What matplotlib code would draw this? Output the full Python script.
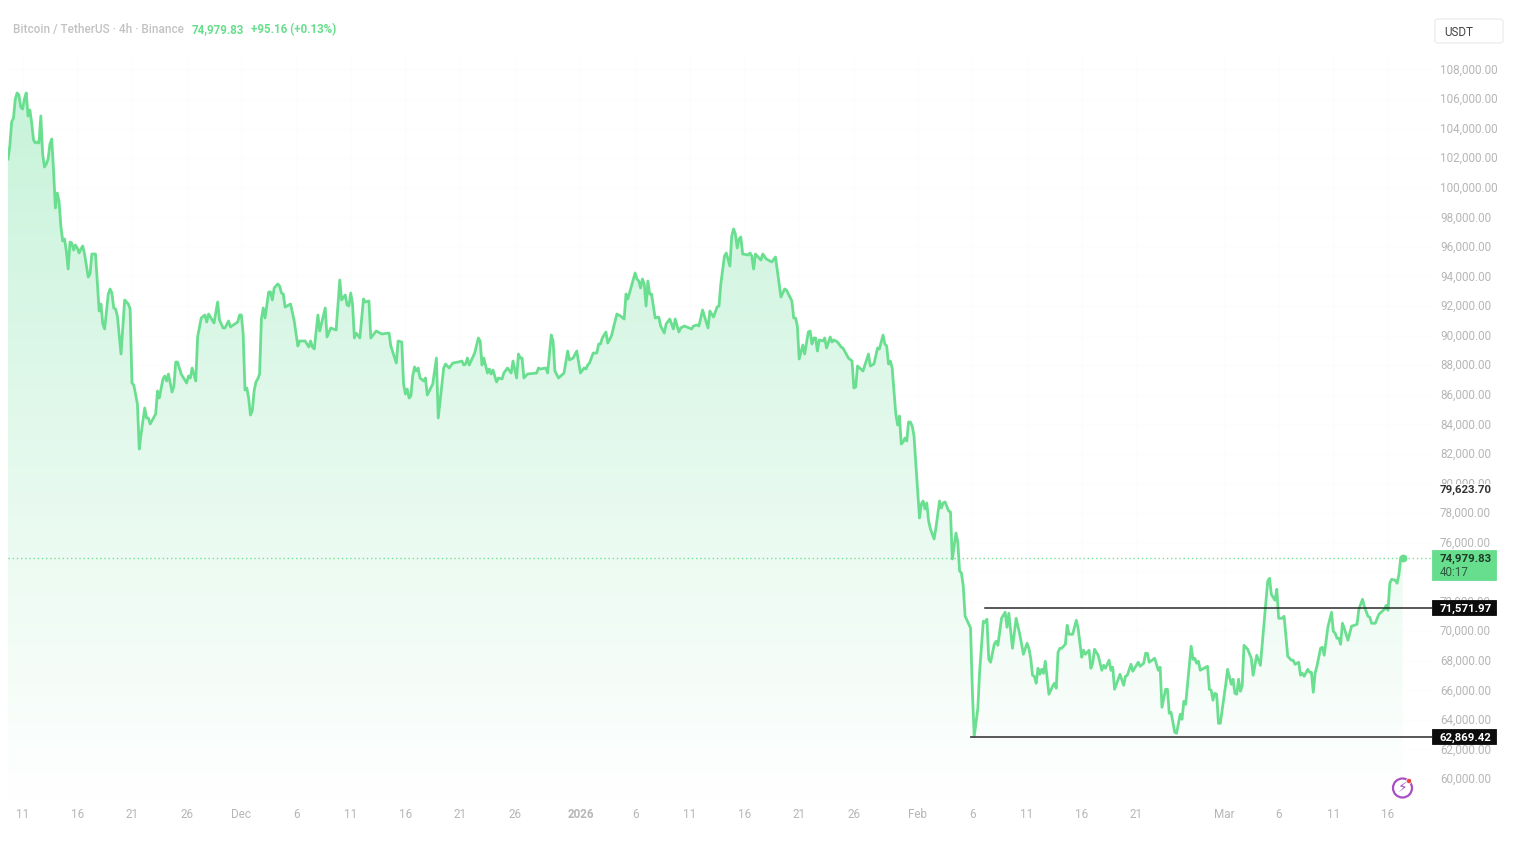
import matplotlib
matplotlib.use("Agg")
import matplotlib.pyplot as plt
import numpy as np
from matplotlib.colors import LinearSegmentedColormap
from matplotlib.patches import PathPatch, Circle, FancyBboxPatch
from matplotlib.transforms import blended_transform_factory, ScaledTranslation

plt.rcParams['font.family'] = ['Roboto', 'DejaVu Sans']

# 4h bar index since the first bar shown
bars = [0,1,2,3,4,5,6,7,8,9,10,11,12,13,14,15,16,17,18,19,20,21,22,23,24,25,26,27,28,29,30,31,32,33,34,35,36,37,38,39,40,41,42,
44,45,46,48,50,51,52,53,55,56,57,58,59,60,62,64,66,67,68,69,71,72,73,75,76,77,78,81,82,83,85,86,87,88,90,91,92,93,95,98,99,100,
101,103,104,106,108,109,110,113,115,116,118,119,121,122,126,127,128,129,130,131,132,133,134,135,136,137,138,139,140,141,143,144,145,146,148,149,150,151,152,155,157,159,160,
163,165,166,167,168,170,171,174,175,177,180,182,183,185,186,187,188,189,190,191,193,195,196,198,199,202,205,209,210,213,214,216,217,218,219,220,221,222,223,224,225,226,228,229,230,233,235,236,239,240,242,244,247,249,250,251,252,253,
256,258,259,260,261,263,264,265,266,268,269,271,272,274,276,277,279,280,281,282,283,285,290,291,292,295,296,298,299,300,302,305,307,308,310,312,314,316,317,318,319,321,323,324,325,326,328,329,331,334,336,338,339,340,344,345,346,347,348,349,350,351,352,353,355,357,358,360,361,363,365,366,368,369,371,375,376,378,379,381,384,385,387,389,390,391,393,394,396,397,398,399,400,401,402,403,406,407,408,409,410,413,414,416,419,421,424,426,427,430,431,432,433,
434,436,437,439,440,441,442,443,444,445,447,448,449,451,452,453,455,457,458,461,463,464,465,466,469,472,473,475,477,478,480,481,482,483,484,485,487,488,489,490,491,492,493,494,495,496,497,498,500,501,502,503,504,505,506,508,509,511,512,513,514,516,517,518,520,521,522,523,524,525,528,529,530,
532,533,535,536,537,538,539,541,542,543,545,547,548,549,551,553,555,557,559,560,561,562,563,564,565,566,567,568,569,571,573,574,575,576,577,578,580,581,582,584,586,587,589,590,591,593,594,595,596,598,600,601,602,604,605,606,607,610,612,613,614,616,617,620,621,623,624,625,626,629,631,632,633,635,636,637,638,640,641,643,644,645,646,649,650,651,652,653,654,658,659,660,661,662,663,664,665,668,669,671,672,673,674,675,676,677,678,680,682,683,685,687,691,692,693,695,696,697,699,700,702,704,705,706,708,709,710,711,713,714,715,716,717,718,720,721,722,724,726,727,728,729,730,731,732,733,735,737,740,741,743,744,746,747,748,750,752,755,756,757,758,759,761,762,763,764,765]

# close price, USDT
prices = [101945,102825,104454,104719,106004,106410,106274,105463,105327,106004,106410,104854,105260,104380,103231,103028,103096,103028,104854,102284,101404,101607,101945,102960,103298,101134,98630,99645,99104,97413,96398,96533,95721,94504,96330,96262,95788,96127,95924,95585,95856,96060,95518,
93963,94166,95518,95518,91662,92136,90783,90445,92813,93151,92880,91865,91798,91324,88753,92407,92136,91798,86791,86656,85370,82326,83341,85100,84423,84423,84018,84694,86250,85777,87062,87265,86927,87400,86182,86588,88211,88211,87400,86791,87265,87130,
87806,86927,89904,91189,91392,90919,91459,90851,92271,91053,90513,90513,90986,90580,90919,91392,91392,90107,86318,86453,85777,84627,84897,86250,86859,87062,87400,91121,91865,91189,92948,92948,92407,93218,93488,93353,92880,92813,91933,92136,90986,89295,89633,
89633,89228,89633,89228,89092,91392,90309,91865,89904,90513,90377,93760,92407,92745,92069,92001,92880,92136,89836,90174,89836,92475,92271,92339,89836,90309,90107,90174,89295,88144,89633,89565,86724,86047,86385,85777,85912,87265,87874,87604,87806,87130,86927,87130,85979,86724,88482,84423,87806,88076,87806,88144,88211,88279,88008,88076,88482,88008,
88820,89836,89633,88008,88482,87468,87739,87400,87671,86859,87130,87062,87468,87806,87468,88279,87130,88753,88482,88482,87130,87400,87468,87806,87739,87806,87468,90039,89633,87604,87130,87468,88956,88347,88482,88956,87468,87806,87739,88008,88144,88820,88820,89430,89430,89836,90242,89498,89971,91459,91324,91121,92813,92475,94233,93827,93692,93218,93827,93488,92001,93692,92813,92813,91189,91256,90648,90174,90783,91121,90445,91121,90242,90513,90648,90445,90648,90715,90648,91730,90513,91662,91256,91933,92001,93488,95382,95585,94706,96736,97210,96871,95924,96533,96668,95518,95450,95585,95382,94504,95518,95112,95518,95179,94977,95315,92610,93151,93083,92339,91189,91189,90648,
88414,89362,88753,90242,90309,89430,89836,89836,88956,89701,89633,89836,89160,89904,89565,89701,89565,89228,89160,88482,88279,86453,86521,87941,87604,88753,87941,88076,89160,89092,90039,89430,89295,88076,88279,87806,84694,83950,84559,82664,82799,83070,82867,84152,84152,83883,83206,81312,77659,78606,78809,78268,78674,77456,76915,76239,76983,78809,78336,78674,78742,78133,78065,74885,76644,76035,74073,73938,73058,71029,70217,65955,62869.42,
64786,67289,70672,70605,70808,68102,67900,69117,69320,69049,70875,71281,70267,71214,68846,70875,69793,68440,69184,68846,68170,67020,66952,66479,67493,67087,67425,67155,67967,65735,66276,66479,66141,68576,68846,68846,69117,70403,69793,69793,70740,70199,68237,68711,68440,68711,67493,67831,68779,68373,67358,67696,67493,68034,67358,67560,66073,67087,66344,66952,67020,67764,67289,67900,67628,67831,68508,68508,67900,68170,67358,67560,64854,66073,66073,64448,64516,63163,63096,64380,64042,65260,65057,68981,68102,68170,67831,67967,67358,67628,66073,66006,65329,65802,65735,63773,63773,66411,67425,66411,66750,65802,65735,66750,65938,66276,69049,68779,68170,67020,68373,67696,73378,73581,72499,72093,72837,70875,70875,71011,68305,68034,68034,67764,67900,67020,67155,66952,67425,67222,67222,65870,67155,67628,68846,68914,68373,70267,71281,69996,69861,69523,69523,69117,70538,70199,69388,70334,70470,71484,72160,71687,71011,70943,70538,70538,71146,71484,71755,71417,73243,73513,73446,73243,73851,74979,74979.83]

price_ticks = list(range(60000, 108001, 2000))
date_bars = [8,38,68,98,128,158,188,218,248,278,314,344,374,404,434,464,499,529,559,589,619,667,697,727,757]
date_labels = ['11','16','21','26','Dec','6','11','16','21','26','2026','6','11','16','21','26','Feb','6','11','16','21','Mar','6','11','16']

last_price = 74979.83
range_high = 71571.97
range_low = 62869.42
range_high_start = 536
range_low_start = 528
marker_price = 79623.70

GREEN = '#66DE8D'
GREY = '#B6B6B6'
FS = 8.35
FSB = 8.2
W, H = 1520, 844
fig = plt.figure(figsize=(W/100, H/100), dpi=100, facecolor='white')
L, R, T, B = 8, 1432, 56, 801
ax = fig.add_axes([L/W, 1-B/H, (R-L)/W, (B-T)/H])
ax.set_xlim(0, (R-L)/1.823)
ax.set_ylim(112634-67.65*800, 112634-67.65*55)
for s in ax.spines.values():
    s.set_visible(False)

xlim, ylim = ax.get_xlim(), ax.get_ylim()
ax.set_axisbelow(True)
ax.grid(True, color='#FDFDFD', lw=0.8)

# gradient fill below the line
poly = ax.fill_between(bars, prices, ylim[0], color='none', lw=0)
cmap = LinearSegmentedColormap.from_list('fill', ['#FFFFFF', '#C8F3DA'])
top_price = 106410
im = ax.imshow(np.linspace(1, 0, 256).reshape(-1, 1), cmap=cmap, vmin=0, vmax=1, aspect='auto',
               extent=(0, bars[-1], ylim[0], top_price), zorder=1, interpolation='bilinear')
patch = PathPatch(poly.get_paths()[0], transform=ax.transData, fc='none', ec='none')
ax.add_patch(patch)
im.set_clip_path(patch)
ax.set_xlim(xlim); ax.set_ylim(ylim)

ax.axhline(last_price, color=GREEN, lw=1, ls=(0, (1, 2)), zorder=2, alpha=0.9)
ax.plot(bars, prices, color=GREEN, lw=2.0, zorder=3, solid_joinstyle='round', alpha=0.97)
ax.plot([bars[-1]], [last_price], 'o', color=GREEN, ms=4.6, zorder=4)
ax.plot([range_high_start, xlim[1]], [range_high]*2, color='#2A2A2A', lw=1.1, zorder=4)
ax.plot([range_low_start, xlim[1]], [range_low]*2, color='#4A4A4A', lw=1.3, zorder=4)

# axes ticks
ax.yaxis.tick_right()
ax.set_yticks(price_ticks)
ax.set_yticklabels([f'{p:,.2f}' for p in price_ticks])
ax.set_xticks(date_bars)
ax.set_xticklabels(date_labels)
ax.tick_params(axis='y', length=0, pad=5.8, labelsize=FS, labelcolor=GREY)
ax.tick_params(axis='x', length=0, pad=4.8, labelsize=FS, labelcolor=GREY)
for t, s in zip(ax.get_xticklabels(), date_labels):
    if s == '2026':
        t.set_fontweight('bold')
up = ScaledTranslation(0, 1.0/100, fig.dpi_scale_trans)
for t in ax.get_yticklabels():
    t.set_transform(t.get_transform() + up)

# price badges
tr = blended_transform_factory(fig.transFigure, ax.transData)
def badge(price, label, fc, tc, h):
    ph = h*67.65
    ax.add_patch(FancyBboxPatch((1432/W, price-ph/2), 64/W, ph, boxstyle='square,pad=0', transform=tr,
                                fc=fc, ec=fc, lw=0.6, zorder=8, clip_on=False))
    ax.text(1440/W, price, label, transform=tr, color=tc, fontsize=FSB, fontweight='bold', va='center_baseline', ha='left',
            zorder=9, clip_on=False)

badge(range_high, f'{range_high:,.2f}', '#0C0C0C', 'white', 15)
badge(range_low, f'{range_low:,.2f}', '#0C0C0C', 'white', 15)
ax.add_patch(FancyBboxPatch((1432/W, last_price-22*67.65), 64/W, 30*67.65, boxstyle='square,pad=0', transform=tr,
                            fc=GREEN, ec=GREEN, lw=0.6, zorder=8, clip_on=False))
ax.text(1440/W, last_price, f'{last_price:,.2f}', transform=tr, color='#1F3B2A', fontsize=FSB, fontweight='bold',
        va='center_baseline', zorder=9, clip_on=False)
ax.text(1440/W, last_price-13.5*67.65, '40:17', transform=tr, color='#2C5A3C', fontsize=FS, va='center_baseline',
        zorder=9, clip_on=False)
ax.text(1440/W, marker_price, f'{marker_price:,.2f}', transform=tr, color='#333333', fontsize=FSB, fontweight='bold',
        va='center_baseline', zorder=9, clip_on=False,
        bbox=dict(fc='white', ec='none', pad=1.0))

# header
def px_text(x, y, s, **kw):
    fig.text(x/W, 1-y/H, s, va='center_baseline', ha='left', **kw)
px_text(13, 28, 'Bitcoin / TetherUS · 4h · Binance', color='#C2C2C2', fontsize=8.5, fontweight='medium')
px_text(192, 28, '74,979.83', color=GREEN, fontsize=8.3, fontweight='bold')
px_text(251, 28, '+95.16 (+0.13%)', color=GREEN, fontsize=8.3, fontweight='bold')

# currency button
ui = fig.add_axes([0, 0, 1, 1], facecolor='none')
ui.set_xlim(0, W); ui.set_ylim(H, 0); ui.axis('off'); ui.set_zorder(20)
ui.add_patch(FancyBboxPatch((1435, 19), 68, 24, boxstyle='round,pad=0,rounding_size=3',
                            fc='white', ec='#EDEDED', lw=1))
ui.text(1444, 31, 'USDT', color='#444444', fontsize=8.4, va='center_baseline', ha='left')

# lightning icon
ui.add_patch(Circle((1402.5, 788), 9.5, fc='white', ec='#A94FC4', lw=1.6))
ui.text(1402.5, 788, '⚡', family='DejaVu Sans', color='#A94FC4', fontsize=10, ha='center', va='center')
ui.add_patch(Circle((1409, 781), 2.6, fc='#E8453C', ec='white', lw=0.5))

fig.savefig('out.png', dpi=100, facecolor='white')
